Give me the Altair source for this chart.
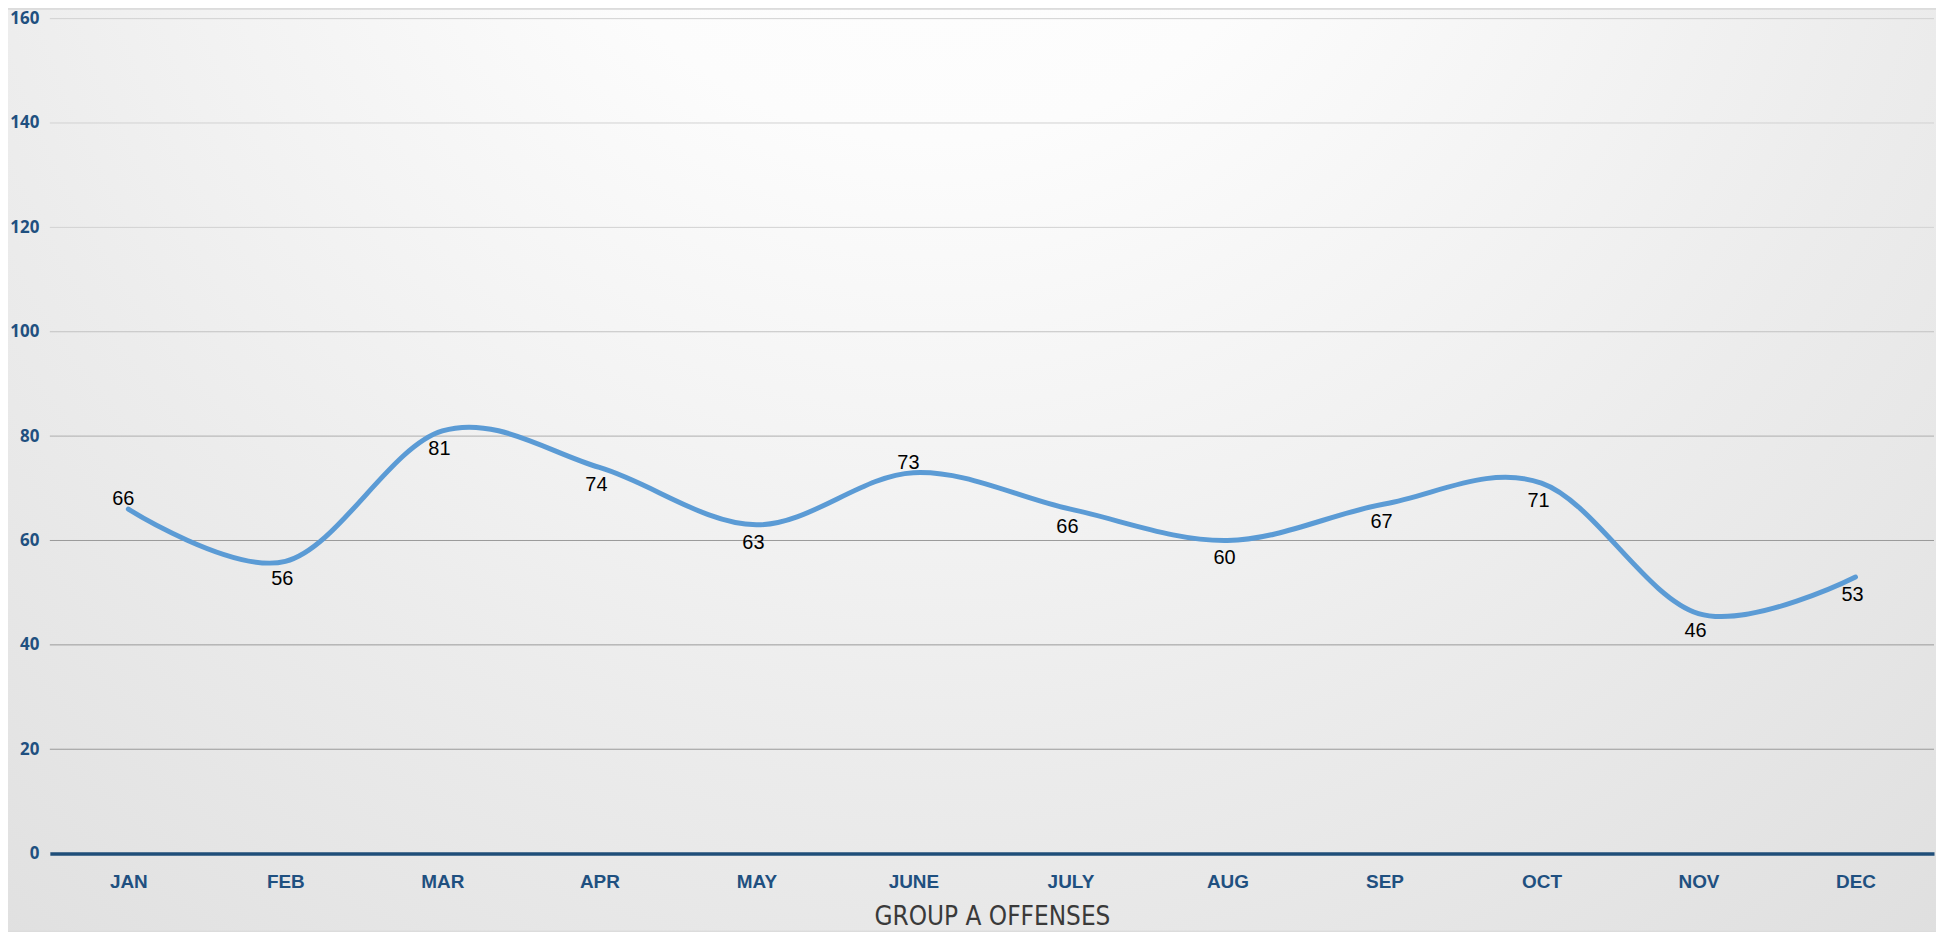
import altair as alt
import pandas as pd

months = ["JAN", "FEB", "MAR", "APR", "MAY", "JUNE", "JULY", "AUG", "SEP", "OCT", "NOV", "DEC"]
offenses = [66, 56, 81, 74, 63, 73, 66, 60, 67, 71, 46, 53]
labels_above = ["JAN", "JUNE"]
y_ticks = [0, 20, 40, 60, 80, 100, 120, 140, 160]
grid_ticks = [20, 40, 60, 80, 100, 120, 140, 160]

df = pd.DataFrame({"month": months, "value": offenses})
grid_df = pd.DataFrame({"value": grid_ticks})

W, H = 1891, 838
PAD_L, PAD_T, PAD_R, PAD_B = 42, 9, 2, 77

bg = alt.Chart(pd.DataFrame({"k": [0]})).mark_rect(
    color=alt.Gradient(
        gradient="radial",
        stops=[
            alt.GradientStop(color="#ffffff", offset=0),
            alt.GradientStop(color="#fcfcfc", offset=0.22),
            alt.GradientStop(color="#ececec", offset=0.55),
            alt.GradientStop(color="#d9d9d9", offset=1),
        ],
        x1=0.48, y1=0.12, r1=0, x2=0.48, y2=0.12, r2=0.95,
    )
).encode(
    x=alt.value(-PAD_L), x2=alt.value(W + PAD_R),
    y=alt.value(-PAD_T), y2=alt.value(H + PAD_B),
)

y_scale = alt.Scale(domain=[0, 160], nice=False)
y_axis = alt.Axis(
    title=None, values=y_ticks, domain=False, ticks=False, tickSize=0,
    labelPadding=11, labelFont="Open Sans", labelFontSize=17, labelFontWeight="bold",
    labelColor="#1F5080", grid=False, zindex=2,
)

grid = alt.Chart(grid_df).transform_calculate(
    gc="datum.value >= 120 ? '#d2d2d2' : datum.value >= 100 ? '#c2c2c2' : datum.value >= 80 ? '#aeaeae' : '#9a9a9a'"
).mark_rule(strokeWidth=1).encode(
    y=alt.Y("value:Q", scale=y_scale, axis=y_axis),
    x=alt.value(0), x2=alt.value(W),
    color=alt.Color("gc:N", scale=None),
)

x_enc = alt.X(
    "month:O", sort=months,
    scale=alt.Scale(type="point", padding=0.5),
    axis=alt.Axis(
        title="GROUP A OFFENSES", labelAngle=0, ticks=False, tickSize=0,
        labelPadding=19, labelFont="Liberation Sans", labelFontSize=19,
        labelFontWeight="bold", labelColor="#1F5080",
        domainColor="#1F4E79", domainWidth=3.5,
        titleFont="Liberation Sans Narrow, DejaVu Sans Condensed, sans-serif",
        titleFontSize=26, titleFontWeight="normal", titleColor="#3a3a3a",
        titleBaseline="alphabetic", titleY=71, grid=False, zindex=2,
    ),
)
y_enc = alt.Y("value:Q", scale=y_scale, axis=y_axis)

line = alt.Chart(df).mark_line(
    color="#5B9BD5", strokeWidth=5, interpolate="cardinal", strokeCap="round"
).encode(x=x_enc, y=y_enc)

above = alt.Chart(df).transform_filter(
    alt.FieldOneOfPredicate(field="month", oneOf=labels_above)
).mark_text(
    font="Liberation Sans", fontSize=20, color="#000000",
    baseline="alphabetic", align="center", dy=-4, dx=-5,
).encode(x=alt.X("month:O", sort=months), y="value:Q", text="value:Q")

below = alt.Chart(df).transform_filter(
    {"not": alt.FieldOneOfPredicate(field="month", oneOf=labels_above)}
).mark_text(
    font="Liberation Sans", fontSize=20, color="#000000",
    baseline="top", align="center", dy=8, dx=-3,
).encode(x=alt.X("month:O", sort=months), y="value:Q", text="value:Q")

chart = alt.layer(bg, grid, line, above, below).properties(
    width=W, height=H,
    autosize=alt.AutoSizeParams(type="none"),
    padding={"left": PAD_L, "top": PAD_T, "right": PAD_R, "bottom": PAD_B},
    background="#dcdcdc",
).configure_view(stroke="transparent")

chart.save("out.html", embed_options={"renderer": "svg", "actions": False})
